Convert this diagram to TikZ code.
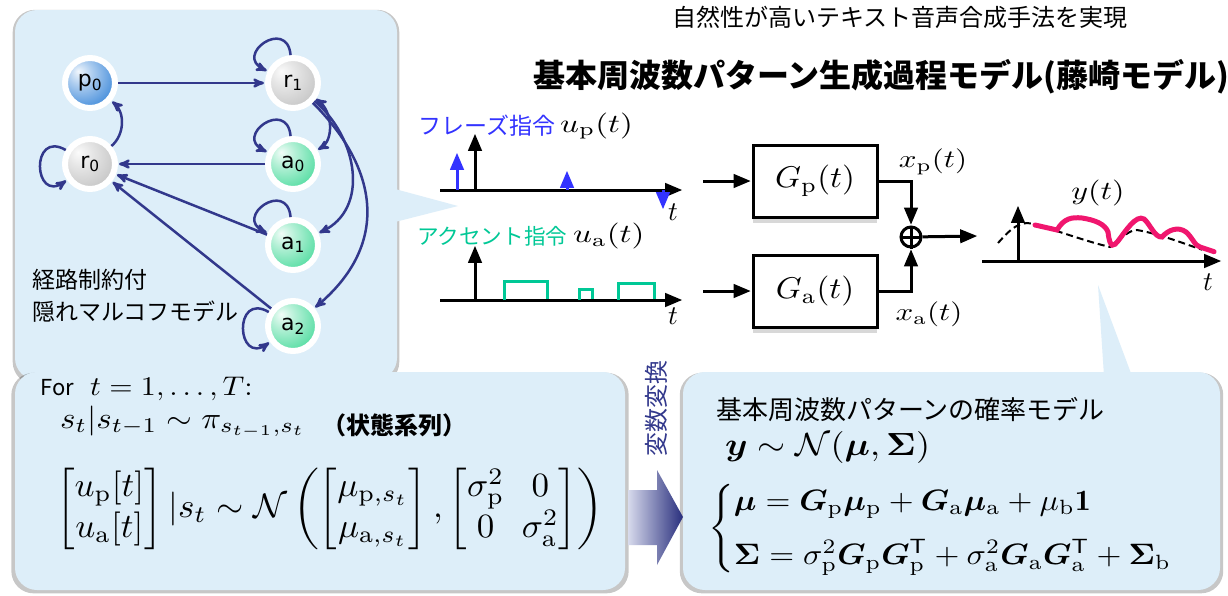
\RequirePackage{fix-cm}
\documentclass[tikz,border=0pt]{standalone}
\usepackage{amsmath}
\usepackage{amssymb}
\usepackage{bm}
\usepackage{fontspec}
\newfontfamily\jp{Noto Sans CJK JP}
\newfontfamily\dv{DejaVu Sans}
\usetikzlibrary{arrows,automata,shadows,positioning}

\definecolor{panelblue}{RGB}{221,238,249}
\definecolor{edgeblue}{RGB}{50,56,140}
\definecolor{phrasecol}{RGB}{51,51,255}
\definecolor{accentcol}{RGB}{0,200,150}
\definecolor{fzerocol}{RGB}{240,22,110}
\definecolor{pball}{RGB}{75,145,220}
\definecolor{rball}{RGB}{200,200,200}
\definecolor{aball}{RGB}{90,222,165}
\definecolor{arrowlight}{RGB}{215,218,236}
\definecolor{arrowdark}{RGB}{40,46,125}

\makeatletter
\pgfdeclareradialshading[tikz@ball]{softball}{\pgfqpoint{-12bp}{12bp}}{%
  color(0bp)=(tikz@ball!8!white); color(12bp)=(tikz@ball!45!white);
  color(32bp)=(tikz@ball); color(50bp)=(tikz@ball!85!black); color(70bp)=(tikz@ball!75!black)}
\makeatother

\newcommand{\fsz}[1]{\fontsize{#1}{#1}\selectfont}
\newcommand{\mth}[3]{\scalebox{#1}[#2]{$#3$}}

\tikzset{
  panel/.style={fill=panelblue, rounded corners=22pt,
    general shadow={fill=black, opacity=.22, shadow scale=1.012, shadow yshift=-2pt}},
  pointer/.style={fill=panelblue},
  every state/.style={draw=white, line width=6pt, minimum size=50pt, inner sep=0pt,
    font=\dv\fsz{22},
    drop shadow={shadow xshift=1pt, shadow yshift=-2pt, opacity=.3}},
  pstate/.style={ball color=pball, shading=softball},
  rstate/.style={ball color=rball, shading=softball},
  astate/.style={ball color=aball, shading=softball},
  block/.style={draw, line width=3pt, fill=white, minimum width=124pt, minimum height=72pt,
    font=\normalsize,
    drop shadow={shadow xshift=0pt, shadow yshift=-6pt, opacity=.3}},
  sumnode/.style={circle, draw, line width=3pt, minimum size=20pt, inner sep=0pt},
  sig/.style={line width=3pt},
  jptext/.style={font=\jp\fsz{22}, inner sep=0pt},
  mathtext/.style={font=\normalsize, inner sep=0pt}
}

\begin{document}
\begin{tikzpicture}[x=1pt,y=-1pt,>=stealth',shorten >=1pt,node distance=81pt]
  \useasboundingbox (0,0) rectangle (1228,595);
  \fill[white] (0,0) rectangle (1228,595);

  % panels
  \path[panel] (15,10) rectangle (397,380);
  \fill[pointer] (395,189) -- (458,206) -- (395,222) -- cycle;
  \path[panel] (15,372) rectangle (625,590);
  \path[panel] (683,372) rectangle (1220,590);
  \fill[pointer] (1098,285) -- (1132,376) -- (1104,376) -- cycle;

  % headline
  \node[jptext, font=\jp\fsz{24}, anchor=west] (head) at (672,17) {自然性が高いテキスト音声合成手法を実現};
  \node[jptext, font=\jp\bfseries\fsz{32}, anchor=west] (title) at (533,77) {基本周波数パターン生成過程モデル(藤崎モデル)};

  % hidden Markov model
  \node[state,pstate] (p0) at (90,83) {p\textsubscript{0}};
  \node[state,rstate] (r1) [right of=p0, node distance=203pt] {r\textsubscript{1}};
  \node[state,rstate] (r0) [below of=p0] {r\textsubscript{0}};
  \node[state,astate] (a0) [below of=r1] {a\textsubscript{0}};
  \node[state,astate] (a1) [below of=a0] {a\textsubscript{1}};
  \node[state,astate] (a2) [below of=a1] {a\textsubscript{2}};

  \path[->, draw=edgeblue, line width=2.5pt]
  (p0) edge (r1)
  (r0) edge [out=40, in=-40] (p0)
  (a0) edge (r0)
  (a1) edge (r0)
  (a2) edge (r0)

  (r1) edge [<->, out=-35, in=30] (a0)
  (r1) edge [out=-40, in=25, looseness=1.1] (a1)
  (r1) edge [out=-45, in=40, looseness=1.2] (a2)

  (r1) edge [out=95, in=155, looseness=3.5] (r1)
  (a0) edge [out=95, in=155, looseness=3.5] (a0)
  (a1) edge [out=95, in=155, looseness=3.5] (a1)
  (r0) edge [out=150, in=215, looseness=3.5] (r0)
  (a2) edge [out=150, in=215, looseness=3.5] (a2)
  ;

  \node[jptext, font=\jp\fsz{23}, anchor=west, align=left] (hmmlab) at (32,296) {経路制約付\\[9pt]隠れマルコフモデル};

  % phrase command
  \node[jptext, font=\jp\fsz{23}, text=phrasecol, anchor=west] (plab) at (418,126) {フレーズ指令};
  \node[mathtext, anchor=west] (pmath) at (560,126) {\mth{3.3}{2.6}{u_\mathrm{p}(t)}};
  \draw[sig, ->, >=triangle 45] (440,190) -- (683,190);
  \draw[sig, ->, >=triangle 45] (475,190) -- (475,133);
  \draw[sig, phrasecol, ->, >=triangle 45] (457,190) -- (457,152);
  \draw[sig, phrasecol, ->, >=triangle 45] (567,190) -- (567,170);
  \draw[sig, phrasecol, ->, >=triangle 45] (663,190) -- (663,210);
  \node[mathtext] (pt) at (673,212) {\mth{2.7}{2.7}{t}};

  % accent command
  \node[jptext, font=\jp\fsz{21.6}, text=accentcol, anchor=west] (alab) at (417,236) {アクセント指令};
  \node[mathtext, anchor=west] (amath) at (573,236) {\mth{3.3}{2.6}{u_\mathrm{a}(t)}};
  \draw[sig, ->, >=triangle 45] (440,300) -- (683,300);
  \draw[sig, ->, >=triangle 45] (475,300) -- (475,245);
  \draw[sig, accentcol] (504,300) |- (547,281) -- (547,300);
  \draw[sig, accentcol] (579,300) |- (592,289) -- (592,300);
  \draw[sig, accentcol] (618,300) |- (654,283) -- (654,300);
  \node[mathtext] (at) at (673,316) {\mth{2.7}{2.7}{t}};

  % Fujisaki model
  \node[block] (Gp) at (815,181) {\mth{3.3}{3.0}{G_\mathrm{p}(t)}};
  \node[block] (Ga) at (815,291) {\mth{3.3}{3.0}{G_\mathrm{a}(t)}};
  \node[sumnode] (sum) at (911,237) {};
  \draw[line width=3pt] (sum.north) -- (sum.south) (sum.west) -- (sum.east);
  \coordinate (inp) at (703,181);
  \coordinate (ina) at (703,291);
  \coordinate (outy) at (978,236);
  \draw[sig, ->, >=triangle 45] (inp) -- (Gp);
  \draw[sig, ->, >=triangle 45] (ina) -- (Ga);
  \draw[sig, ->, >=triangle 45] (Gp.east) -| (sum.north);
  \draw[sig, ->, >=triangle 45] (Ga.east) -| (sum.south);
  \draw[sig, ->, >=triangle 45] (sum) -- (outy);
  \node[mathtext] (xp) at (933,162) {\mth{3.1}{2.5}{x_\mathrm{p}(t)}};
  \node[mathtext] (xa) at (929,314) {\mth{3.1}{2.5}{x_\mathrm{a}(t)}};

  % F0 contour
  \draw[sig, ->, >=triangle 45] (982,261) -- (1222,261);
  \draw[sig, ->, >=triangle 45] (1018,261) -- (1018,205);
  \draw[line width=2pt, dashed, dash pattern=on 7pt off 4pt]
    (998,243) .. controls (1008,232) and (1015,224) .. (1027,223)
    .. controls (1040,224) and (1080,240) .. (1110,247)
    .. controls (1120,240) and (1128,230) .. (1137,230)
    .. controls (1160,234) and (1185,244) .. (1203,250);
  \draw[line width=5pt, fzerocol, line cap=round]
    (1035,225) -- (1057,230) .. controls (1064,218) and (1072,217) .. (1082,218)
    .. controls (1095,220) and (1105,224) .. (1108,232)
    .. controls (1110,250) and (1114,246) .. (1118,241)
    .. controls (1125,232) and (1136,214) .. (1144,219)
    .. controls (1150,224) and (1155,238) .. (1162,237)
    .. controls (1168,230) and (1178,226) .. (1186,232)
    .. controls (1192,237) and (1195,246) .. (1200,247)
    -- (1215,252);
  \node[mathtext] (ylab) at (1098,193) {\mth{3.2}{2.6}{y(t)}};
  \node[mathtext] (yt) at (1208,282) {\mth{2.7}{2.7}{t}};

  % state sequence model
  \node[jptext, font=\jp\fsz{22}, anchor=base west] (forword) at (40,395) {For};
  \node[mathtext, anchor=base west] (forline) at (90,395) {\mth{3.0}{2.7}{t=1,\ldots,T\text{:}}};
  \node[mathtext, anchor=base west] (sline) at (60,428) {\mth{3.3}{3.0}{s_t|s_{t-1}\sim\pi_{s_{t-1},s_t}}};
  \node[jptext, font=\jp\bfseries\fsz{24}, anchor=west] (seqlab) at (322,425) {（状態系列）};
  \node[mathtext, anchor=west] (uline) at (56,509) {\mth{3.5}{3.4}{\setlength{\arraycolsep}{2.5pt}\displaystyle
    \begin{bmatrix} u_\mathrm{p}[t] \\ u_\mathrm{a}[t] \end{bmatrix} |s_t \sim \mathcal{N}\left(
    \begin{bmatrix} \mu_{\mathrm{p},s_t} \\ \mu_{\mathrm{a},s_t} \end{bmatrix},
    \begin{bmatrix} \sigma_\mathrm{p}^2 & 0 \\ 0 & \sigma_\mathrm{a}^2 \end{bmatrix} \right)}};

  % variable transform
  \shade[left color=arrowlight, right color=arrowdark]
    (628,490) -- (657,490) -- (657,470) -- (683,517) -- (657,565) -- (657,545) -- (628,545) -- cycle;
  \node[jptext, text=edgeblue, rotate=90, font=\jp\fsz{24}] (trans) at (656,408) {変数変換};

  % F0 probability model
  \node[jptext, font=\jp\fsz{26}, anchor=west] (problab) at (716,410) {基本周波数パターンの確率モデル};
  \node[mathtext, anchor=base west] (yline) at (725,455) {\mth{3.6}{3.2}{\bm{y}\sim\mathcal{N}(\bm{\mu},\bm{\Sigma})}};
  \node[mathtext, anchor=west] (cases) at (708,529) {\mth{3.2}{2.95}{\begin{cases}
    \bm{\mu} = \bm{G}_\mathrm{p}\bm{\mu}_\mathrm{p}+\bm{G}_\mathrm{a}\bm{\mu}_\mathrm{a}+\mu_\mathrm{b}\mathbf{1} \\[4pt]
    \bm{\Sigma} = \sigma_\mathrm{p}^2\bm{G}_\mathrm{p}\bm{G}_\mathrm{p}^\mathsf{T}+\sigma_\mathrm{a}^2\bm{G}_\mathrm{a}\bm{G}_\mathrm{a}^\mathsf{T}+\bm{\Sigma}_\mathrm{b}
  \end{cases}}};
\end{tikzpicture}
\end{document}
